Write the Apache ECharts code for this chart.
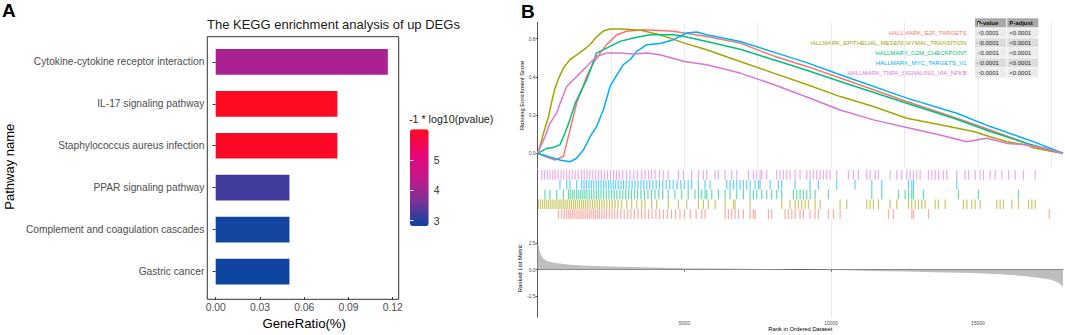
<!DOCTYPE html>
<html>
<head>
<meta charset="utf-8">
<script src="https://cdn.jsdelivr.net/npm/echarts@6/dist/echarts.min.js"></script>
<style>
    html, body { margin: 0; padding: 0; background: #fff; }
    #chart { width: 1065px; height: 335px; }
</style>
</head>
<body>
<div id="chart"></div>
<script>
    // ---- panel A: KEGG enrichment ----
    var pathways = [
        'Cytokine-cytokine receptor interaction',
        'IL-17 signaling pathway',
        'Staphylococcus aureus infection',
        'PPAR signaling pathway',
        'Complement and coagulation cascades',
        'Gastric cancer'
    ]
    var geneRatio = [0.1167, 0.0825, 0.0825, 0.05, 0.05, 0.05]
    var logP = [4.15, 5.95, 5.9, 3.2, 2.87, 2.85]
    var colorbarTicks = [3, 4, 5]

    // ---- panel B: GSEA ----
    var setNames = [
        'HALLMARK_E2F_TARGETS',
        'IALLMARK_EPITHELIAL_MESENCHYMAL_TRANSITION',
        'HALLMARK_G2M_CHECKPOINT',
        'HALLMARK_MYC_TARGETS_V1',
        'HALLMARK_TNFA_SIGNALING_VIA_NFKB'
    ]
    var setColors = ['#F8766D', '#A3A500', '#00BF7D', '#00B0F6', '#DC74D8']
    var pValues = ['<0.0001', '<0.0001', '<0.0001', '<0.0001', '<0.0001']
    var pAdjust = ['<0.0001', '<0.0001', '<0.0001', '<0.0001', '<0.0001']

    var esE2F = [[0, 0], [300, -0.02], [590, -0.035], [880, -0.017], [990, 0.052], [1160, 0.157], [1330, 0.262],
        [1500, 0.332], [1670, 0.402], [1900, 0.472], [2130, 0.525], [2350, 0.569], [2700, 0.621], [3030, 0.639],
        [3600, 0.647], [4000, 0.645], [4630, 0.639], [5000, 0.63], [5760, 0.612], [6900, 0.577], [8040, 0.51],
        [9170, 0.455], [10310, 0.394], [12580, 0.271], [14280, 0.184], [15420, 0.122], [16670, 0.052],
        [17290, 0.017], [17900, 0]]
    var esEMT = [[0, 0], [80, 0.035], [200, 0.105], [370, 0.19], [480, 0.27], [590, 0.34], [710, 0.39], [880, 0.446],
        [1100, 0.49], [1330, 0.515], [1560, 0.54], [1790, 0.57], [2010, 0.61], [2240, 0.64], [2470, 0.651],
        [2810, 0.651], [3150, 0.648], [3490, 0.645], [4170, 0.621], [5000, 0.577], [5760, 0.542], [6900, 0.481],
        [8040, 0.42], [9170, 0.36], [10310, 0.297], [11440, 0.245], [12580, 0.184], [13710, 0.149], [14850, 0.114],
        [15420, 0.087], [15990, 0.061], [16670, 0.044], [16840, 0.031], [17900, 0]]
    var esG2M = [[0, 0], [310, 0.026], [540, 0.031], [760, 0.044], [930, 0.105], [1100, 0.175], [1280, 0.262],
        [1450, 0.315], [1670, 0.385], [1840, 0.455], [2010, 0.525], [2350, 0.551], [2810, 0.586], [3260, 0.604],
        [3830, 0.621], [4630, 0.621], [5000, 0.612], [5760, 0.586], [6900, 0.545], [8040, 0.49], [9170, 0.435],
        [10310, 0.376], [12580, 0.262], [14280, 0.178], [15420, 0.114], [16670, 0.052], [17900, 0]]
    var esMYC = [[0, 0], [760, -0.035], [1100, -0.044], [1330, -0.026], [1560, 0.017], [1790, 0.087], [2010, 0.14],
        [2240, 0.227], [2470, 0.35], [2700, 0.411], [2920, 0.464], [3150, 0.49], [3380, 0.534], [3720, 0.569],
        [4170, 0.575], [4630, 0.595], [5080, 0.63], [5420, 0.635], [5760, 0.621], [6900, 0.585], [8040, 0.53],
        [9170, 0.475], [10310, 0.411], [12580, 0.289], [14280, 0.21], [15420, 0.14], [16890, 0.061], [17900, 0]]
    var esTNFA = [[0, 0], [50, 0.017], [250, 0.087], [420, 0.157], [650, 0.21], [760, 0.26], [990, 0.35], [1220, 0.385],
        [1450, 0.42], [1670, 0.455], [2010, 0.507], [2350, 0.525], [2810, 0.525], [3260, 0.52], [3720, 0.525],
        [4170, 0.516], [5000, 0.481], [5760, 0.464], [6900, 0.42], [8040, 0.36], [9170, 0.295], [10310, 0.227],
        [11440, 0.175], [12580, 0.135], [13710, 0.096], [14620, 0.061], [15300, 0.079], [15990, 0.052],
        [16670, 0.044], [17290, 0.026], [17900, 0]]

    var hitsE2F = [710, 820, 910, 990, 1060, 1130, 1200, 1270, 1340, 1410, 1480, 1550, 1620, 1690, 1760, 1830, 1900,
        1970, 2040, 2110, 2190, 2270, 2350, 2440, 2530, 2620, 2720, 2830, 2950, 3070, 3180, 3300, 3420, 3540, 3660,
        3780, 3900, 4030, 4160, 4290, 4420, 4560, 4700, 4850, 5000, 5200, 5400, 5592, 5705, 6387, 6501, 6614, 6728,
        6842, 7012, 7239, 7353, 7409, 7864, 7977, 8432, 8545, 8659, 8773, 8943, 9057, 9284, 9454, 9568, 9909, 10079,
        10306, 11953, 12124, 12748, 12805, 13316, 17430]
    var hitsEMT = [30, 100, 170, 240, 310, 380, 450, 520, 590, 660, 730, 800, 870, 940, 1010, 1080, 1150, 1220, 1290,
        1360, 1430, 1500, 1570, 1640, 1710, 1790, 1870, 1950, 2030, 2110, 2190, 2270, 2360, 2450, 2540, 2640, 2740,
        2866, 3036, 3206, 3377, 3547, 3660, 3888, 4058, 4456, 4797, 5081, 5478, 5649, 5819, 6046, 6387, 6671, 6728,
        7239, 8318, 8602, 8773, 8886, 9000, 9114, 9227, 9454, 9625, 10306, 10533, 11215, 11328, 11442, 11612, 12010,
        12237, 12635, 12748, 12862, 12975, 13089, 13203, 13544, 13657, 13884, 14509, 14623, 14793, 14907, 15077,
        15645, 15759, 15872, 16156, 16384, 16725, 16838, 16952]
    var hitsG2M = [250, 420, 650, 880, 1050, 1110, 1180, 1250, 1330, 1400, 1470, 1540, 1610, 1680, 1760, 1840, 1920,
        2000, 2080, 2160, 2250, 2340, 2430, 2520, 2610, 2700, 2800, 2900, 3000, 3100, 3200, 3300, 3400, 3520, 3640,
        3760, 3880, 4000, 4130, 4260, 4450, 4680, 4910, 5130, 5360, 5480, 5592, 5705, 5762, 5933, 6160, 6387, 6557,
        6785, 7012, 7239, 7353, 7466, 7637, 7807, 7977, 8148, 8318, 8716, 8830, 8943, 9057, 9170, 9284, 9454, 9909,
        11385, 11726, 12294, 12521, 12635, 12748, 12805, 13146, 14339, 15020, 16384]
    var hitsMYC = [763, 991, 1104, 1331, 1500, 1580, 1660, 1750, 1830, 1910, 2000, 2080, 2160, 2250, 2330, 2420, 2500,
        2580, 2660, 2750, 2840, 2930, 3020, 3120, 3220, 3320, 3420, 3520, 3620, 3720, 3820, 3930, 4040, 4150, 4260,
        4380, 4500, 4620, 4750, 4880, 5000, 5130, 5250, 5480, 5705, 5876, 6444, 6557, 6671, 6785, 6898, 7012, 7125,
        7239, 7409, 7523, 7580, 7921, 8205, 8318, 8773, 9284, 9568, 10193, 10817, 11385, 11726, 12635, 12748, 12805,
        14282]
    var hitsTNFA = [140, 230, 330, 420, 520, 600, 700, 800, 890, 990, 1080, 1180, 1280, 1380, 1500, 1590, 1690, 1780,
        1880, 1980, 2080, 2170, 2280, 2380, 2490, 2590, 2690, 2780, 2900, 3030, 3150, 3280, 3400, 3540, 3660, 3780,
        3880, 4000, 4150, 4280, 4450, 4800, 4970, 5250, 5480, 5649, 5762, 6046, 6160, 6387, 6614, 6785, 7182, 7353,
        7466, 7580, 7637, 7807, 8148, 8261, 8375, 8489, 8602, 8773, 8943, 9170, 9284, 9397, 9511, 9625, 9738, 9852,
        9965, 10193, 10590, 10761, 10931, 11215, 11328, 11499, 11612, 12010, 12237, 12408, 12578, 12692, 12805,
        12919, 13032, 13316, 13430, 13544, 13657, 13828, 13941, 14282, 14566, 14680, 14907, 15077, 15191, 15418,
        15588, 15816, 16043, 16270, 16554, 16952]

    var rankedMetric = [[0, 2.5], [25, 2.4], [60, 1.92], [82, 1.6], [139, 1.28], [195, 1.03], [309, 0.83], [536, 0.64],
        [1104, 0.45], [1672, 0.35], [2808, 0.26], [3944, 0.19], [5080, 0.13], [6217, 0.1], [7000, 0.07],
        [8000, 0.04], [8900, 0], [9500, -0.03], [10500, -0.08], [11250, -0.13], [12500, -0.2], [13500, -0.25],
        [14800, -0.32], [15800, -0.45], [16570, -0.62], [17100, -0.8], [17500, -0.98], [17750, -1.25],
        [17850, -1.5], [17900, -1.7]]

    var esCurves = [esE2F, esEMT, esG2M, esMYC, esTNFA]
    var hitSets = [hitsE2F, hitsEMT, hitsG2M, hitsMYC, hitsTNFA]
    var esTicks = [0, 0.2, 0.4, 0.6]
    var metricTicks = [-2.5, 0, 2.5]
    var rankTicks = [5000, 10000, 15000]

    var FONT = 'Liberation Sans, Arial, sans-serif'
    var myChart = echarts.init(document.getElementById('chart'), null, { renderer: 'svg' })

    var series = [{
        type: 'bar',
        xAxisIndex: 0,
        yAxisIndex: 0,
        barWidth: 25.7,
        encode: { x: 0, y: 1 },
        silent: true,
        data: pathways.map(function (p, i) { return [geneRatio[i], p, logP[i]] })
    }]
    esCurves.forEach(function (curve, i) {
        series.push({
            type: 'line',
            xAxisIndex: 3,
            yAxisIndex: 4,
            showSymbol: false,
            silent: true,
            lineStyle: { width: 1.5, color: setColors[i] },
            itemStyle: { color: setColors[i] },
            data: curve
        })
    })
    hitSets.forEach(function (hits, i) {
        series.push({
            type: 'scatter',
            xAxisIndex: 4,
            yAxisIndex: 5,
            symbol: 'rect',
            symbolSize: [1.2, 9.6],
            silent: true,
            itemStyle: { color: setColors[i], opacity: 0.6 },
            data: hits.map(function (r) { return [r, i + 0.5] })
        })
    })
    series.push({
        type: 'line',
        xAxisIndex: 5,
        yAxisIndex: 6,
        showSymbol: false,
        silent: true,
        lineStyle: { width: 0 },
        areaStyle: { color: '#BEBEBE', opacity: 1, origin: 'auto' },
        data: rankedMetric
    })

    // legend text + p-value table of panel B
    var graphics = []
    var tblLeft = 975, colW = 31.2, rowH = 10, headTop = 18.3
    graphics.push({ type: 'rect', shape: { x: tblLeft, y: headTop, width: colW, height: 9 }, style: { fill: '#A9A9A9' } })
    graphics.push({ type: 'rect', shape: { x: tblLeft + colW + 1, y: headTop, width: colW, height: 9 }, style: { fill: '#A9A9A9' } })
    graphics.push({ type: 'text', x: tblLeft + 2, y: headTop + 4.5, style: { text: 'P-value', fill: '#111', fontSize: 6, fontWeight: 'bold', fontFamily: FONT, verticalAlign: 'middle' } })
    graphics.push({ type: 'text', x: tblLeft + colW + 3, y: headTop + 4.5, style: { text: 'P-adjust', fill: '#111', fontSize: 6, fontWeight: 'bold', fontFamily: FONT, verticalAlign: 'middle' } })
    setNames.forEach(function (name, i) {
        var top = headTop + rowH * (i + 1)
        var fill = i % 2 === 0 ? '#EBEBEB' : '#DCDCDC'
        graphics.push({ type: 'rect', shape: { x: tblLeft, y: top, width: colW, height: 9 }, style: { fill: fill } })
        graphics.push({ type: 'rect', shape: { x: tblLeft + colW + 1, y: top, width: colW, height: 9 }, style: { fill: fill } })
        graphics.push({ type: 'text', x: tblLeft + 2, y: top + 4.5, style: { text: pValues[i], fill: '#222', fontSize: 6, fontFamily: FONT, verticalAlign: 'middle' } })
        graphics.push({ type: 'text', x: tblLeft + colW + 3, y: top + 4.5, style: { text: pAdjust[i], fill: '#222', fontSize: 6, fontFamily: FONT, verticalAlign: 'middle' } })
        graphics.push({ type: 'text', x: 966.7, y: top + 4.5, style: { text: name, fill: setColors[i], fontSize: 6, fontFamily: FONT, align: 'right', verticalAlign: 'middle' } })
    })

    var rankSplit = { show: true, showMinLine: false, showMaxLine: false, lineStyle: { color: '#EBEBEB', width: 1 } }

    var option = {
        animation: false,
        backgroundColor: '#fff',
        textStyle: { fontFamily: FONT },
        title: [
            { text: 'A', left: 2, top: 1, padding: 0, textStyle: { fontSize: 19, fontWeight: 'bold', color: '#000', fontFamily: FONT } },
            { text: 'B', left: 521, top: 2, padding: 0, textStyle: { fontSize: 19, fontWeight: 'bold', color: '#000', fontFamily: FONT } },
            { text: 'The KEGG enrichment analysis of up DEGs', left: 207, top: 18, padding: 0, textStyle: { fontSize: 13, fontWeight: 'normal', color: '#1a1a1a', fontFamily: FONT } },
            { text: '-1 * log10(pvalue)', left: 409, top: 113.6, padding: 0, textStyle: { fontSize: 10.7, fontWeight: 'normal', color: '#1a1a1a', fontFamily: FONT } }
        ],
        grid: [
            { left: 215.7, top: 40.9, width: 177, height: 253.8 },                       // A data
            { left: 207.3, top: 36.7, width: 191.4, height: 262.6, show: true, borderColor: '#333', borderWidth: 1, backgroundColor: 'transparent' }, // A frame
            { left: 410, top: 129.3, width: 18.7, height: 96.7 },                        // A colorbar ticks
            { left: 537.6, top: 22.3, width: 525.4, height: 146.1 },                     // B running score
            { left: 537.6, top: 170, width: 525.4, height: 49 },                         // B hits
            { left: 537.6, top: 219, width: 525.4, height: 98.3 }                        // B ranked metric
        ],
        visualMap: {
            type: 'continuous',
            seriesIndex: 0,
            dimension: 2,
            min: 2.82,
            max: 6.01,
            calculable: false,
            orient: 'vertical',
            left: 410,
            top: 129.3,
            itemWidth: 18.7,
            itemHeight: 96.7,
            padding: 0,
            inRange: { color: ['#0B45A1', '#7A3296', '#C21A8C', '#EC0475', '#FF0A1C'] }
        },
        xAxis: [
            {
                gridIndex: 0, type: 'value', min: 0, max: 0.12, interval: 0.03, offset: 4.6,
                axisLine: { show: false },
                axisTick: { show: true, length: 3, lineStyle: { color: '#333' } },
                axisLabel: { color: '#4D4D4D', fontSize: 10.3, margin: 5, formatter: function (v) { return v.toFixed(2) } },
                splitLine: { show: false },
                name: 'GeneRatio(%)', nameLocation: 'middle', nameGap: 18,
                nameTextStyle: { fontSize: 13.2, color: '#000' }
            },
            { gridIndex: 1, type: 'value', show: false },
            { gridIndex: 2, type: 'value', show: false },
            {
                gridIndex: 3, type: 'value', min: 0, max: 17900, interval: 2500,
                axisLine: { show: false }, axisTick: { show: false }, axisLabel: { show: false },
                splitLine: rankSplit
            },
            { gridIndex: 4, type: 'value', min: 0, max: 17900, show: false },
            {
                gridIndex: 5, type: 'value', min: 0, max: 17900, interval: 2500,
                axisLine: { show: true, lineStyle: { color: '#555', width: 1 } },
                axisTick: { show: true, length: 2, customValues: rankTicks, lineStyle: { color: '#555' } },
                axisLabel: { customValues: rankTicks, fontSize: 5, color: '#4D4D4D', margin: 3, formatter: function (v) { return String(v) } },
                splitLine: rankSplit,
                name: 'Rank in Ordered Dataset', nameLocation: 'middle', nameGap: 8,
                nameTextStyle: { fontSize: 5.8, color: '#000' }
            }
        ],
        yAxis: [
            {
                gridIndex: 0, type: 'category', inverse: true, data: pathways, offset: 8.4,
                axisLine: { show: false },
                axisTick: { show: true, alignWithLabel: true, length: 3, lineStyle: { color: '#333' } },
                axisLabel: { color: '#4D4D4D', fontSize: 10.2, margin: 3 },
                name: 'Pathway name', nameLocation: 'middle', nameGap: 191, nameRotate: 90,
                nameTextStyle: { fontSize: 13, color: '#000' }
            },
            { gridIndex: 1, type: 'value', show: false },
            {
                gridIndex: 2, type: 'value', min: 2.82, max: 6.01, position: 'right', z: 10,
                axisLine: { show: false },
                axisTick: { show: true, inside: true, length: 3.5, customValues: colorbarTicks, lineStyle: { color: '#fff' } },
                axisLabel: { customValues: colorbarTicks, fontSize: 10.5, color: '#333', margin: 5 },
                splitLine: { show: false }
            },
            {
                gridIndex: 2, type: 'value', min: 2.82, max: 6.01, position: 'left', z: 10,
                axisLine: { show: false },
                axisTick: { show: true, inside: true, length: 3.5, customValues: colorbarTicks, lineStyle: { color: '#fff' } },
                axisLabel: { show: false },
                splitLine: { show: false }
            },
            {
                gridIndex: 3, type: 'value', min: -0.079, max: 0.686,
                axisLine: { show: true, lineStyle: { color: '#555', width: 1 } },
                axisTick: { show: true, length: 2, customValues: esTicks, lineStyle: { color: '#555' } },
                axisLabel: { customValues: esTicks, fontSize: 5, color: '#4D4D4D', margin: 2, formatter: function (v) { return v.toFixed(1) } },
                splitLine: { show: false },
                name: 'Running Enrichment Score', nameLocation: 'middle', nameGap: 11.6, nameRotate: 90,
                nameTextStyle: { fontSize: 5.8, color: '#000' }
            },
            {
                gridIndex: 4, type: 'value', min: 0, max: 5,
                axisLine: { show: true, lineStyle: { color: '#555', width: 1 } },
                axisTick: { show: false }, axisLabel: { show: false }, splitLine: { show: false }
            },
            {
                gridIndex: 5, type: 'value', min: -4.55, max: 4.81,
                axisLine: { show: true, lineStyle: { color: '#555', width: 1 } },
                axisTick: { show: true, length: 2, customValues: metricTicks, lineStyle: { color: '#555' } },
                axisLabel: { customValues: metricTicks, fontSize: 5, color: '#4D4D4D', margin: 2, formatter: function (v) { return v === 0 ? '0.0' : String(v) } },
                splitLine: { show: false },
                name: 'Ranked List Metric', nameLocation: 'middle', nameGap: 11.6, nameRotate: 90,
                nameTextStyle: { fontSize: 5.8, color: '#000' }
            }
        ],
        graphic: graphics,
        series: series
    }
    myChart.setOption(option)
</script>
</body>
</html>
